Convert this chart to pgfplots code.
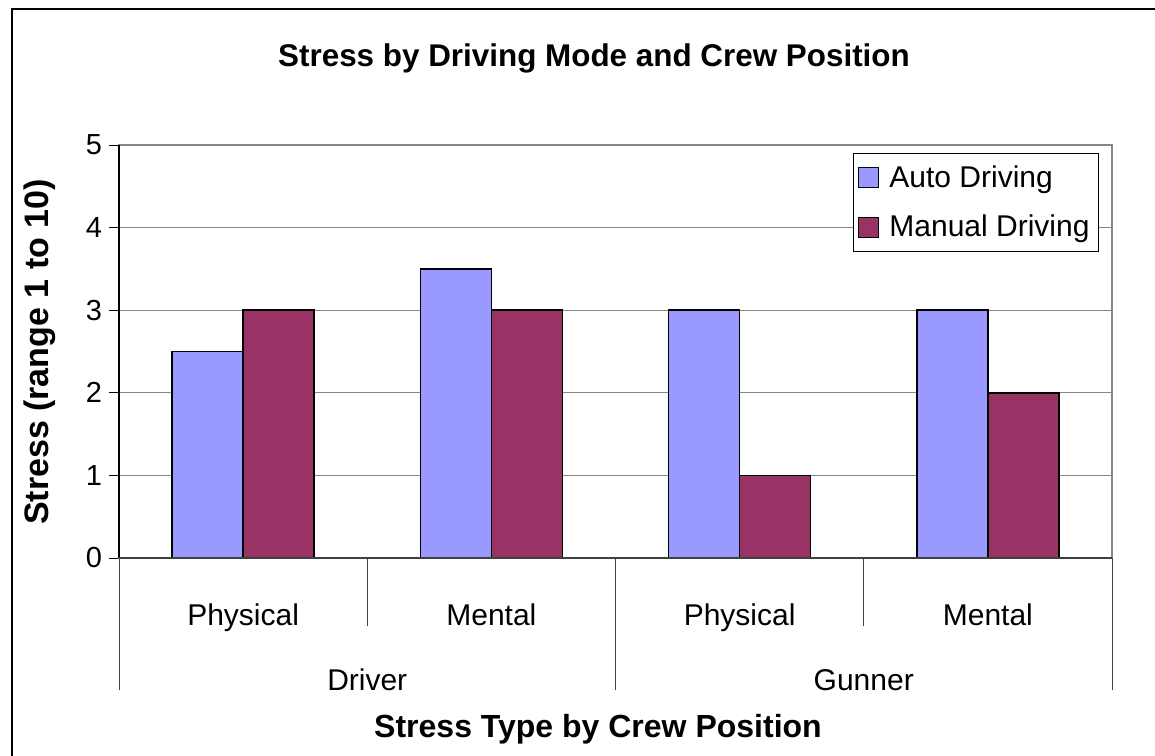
\documentclass[border=0pt]{standalone}
\usepackage{fontspec}
\setmainfont{Liberation Sans}
\usepackage{pgfplots}
\pgfplotsset{compat=1.18}
\definecolor{autoc}{HTML}{9999FF}
\definecolor{manc}{HTML}{993366}
\definecolor{gridc}{HTML}{868686}
\begin{document}
\begin{tikzpicture}
\useasboundingbox (0,0) rectangle (577.5pt,-377.5pt);
\draw[black, line width=0.6pt] (6pt,-4.5pt) rectangle (590pt,-390pt);
\node[font=\fontsize{15.7}{18}\bfseries\selectfont] at (297pt,-29pt) {Stress by Driving Mode and Crew Position};
\node[font=\fontsize{16}{19}\bfseries\selectfont] at (299pt,-364.5pt) {Stress Type by Crew Position};
\node[rotate=90, font=\fontsize{17}{19}\bfseries\selectfont] at (20pt,-176pt) {Stress (range 1 to 10)};
\begin{axis}[
  at={(59.5pt,-279pt)}, anchor=south west,
  scale only axis, width=496.5pt, height=206.5pt,
  xmin=-0.5, xmax=3.5, ymin=0, ymax=5,
  ybar=0pt, bar width=35.5pt,
  axis line style={gridc, line width=0.6pt},
  ymajorgrids, grid style={gridc, line width=0.6pt},
  ytick={0,1,2,3,4,5},
  ytick pos=left,
  ytick style={black, line width=0.5pt},
  major tick length=5pt, tick align=outside,
  yticklabel style={font=\fontsize{14.5}{17}\selectfont},
  xtick={0,1,2,3}, xticklabels={Physical,Mental,Physical,Mental},
  xtick style={draw=none},
  xticklabel style={font=\fontsize{15}{18}\selectfont, anchor=base, yshift=-28.5pt},
  extra x ticks={0.5,2.5}, extra x tick labels={Driver,Gunner},
  extra x tick style={grid=none, xtick style={draw=none}, xticklabel style={yshift=-32.5pt}},
  /pgf/number format/assume math mode=true,
  clip=false,
  legend style={at={(1,1)}, anchor=north east, xshift=-6.5pt, yshift=-4pt,
    draw=black, line width=0.5pt, font=\fontsize{15}{18}\selectfont,
    inner xsep=2.5pt, inner ysep=4pt, row sep=8.5pt, cells={anchor=west},
    /tikz/every odd column/.append style={column sep=3pt}},
]
\addplot[fill=autoc, draw=black, line width=0.8pt,
  legend image code/.code={\draw[fill=autoc, draw=black, line width=0.6pt] (0pt,-5pt) rectangle (10pt,5pt);}]
  coordinates {(0,2.5) (1,3.5) (2,3) (3,3)};
\addplot[fill=manc, draw=black, line width=0.8pt,
  legend image code/.code={\draw[fill=manc, draw=black, line width=0.6pt] (0pt,-5pt) rectangle (10pt,5pt);}]
  coordinates {(0,3) (1,3) (2,1) (3,2)};
\legend{Auto Driving, Manual Driving}
\draw[black, line width=0.7pt] (rel axis cs:0,0) -- (rel axis cs:0,1);
\draw[black!75, line width=0.6pt] (rel axis cs:0,0) -- (rel axis cs:1,0);
\draw[black!75, line width=0.5pt] (axis cs:-0.5,0) -- ([yshift=-66pt]axis cs:-0.5,0);
\draw[black!75, line width=0.5pt] (axis cs:1.5,0) -- ([yshift=-66pt]axis cs:1.5,0);
\draw[black!75, line width=0.5pt] (axis cs:3.5,0) -- ([yshift=-66pt]axis cs:3.5,0);
\draw[black!75, line width=0.5pt] (axis cs:0.5,0) -- ([yshift=-34pt]axis cs:0.5,0);
\draw[black!75, line width=0.5pt] (axis cs:2.5,0) -- ([yshift=-34pt]axis cs:2.5,0);
\end{axis}
\end{tikzpicture}
\end{document}
